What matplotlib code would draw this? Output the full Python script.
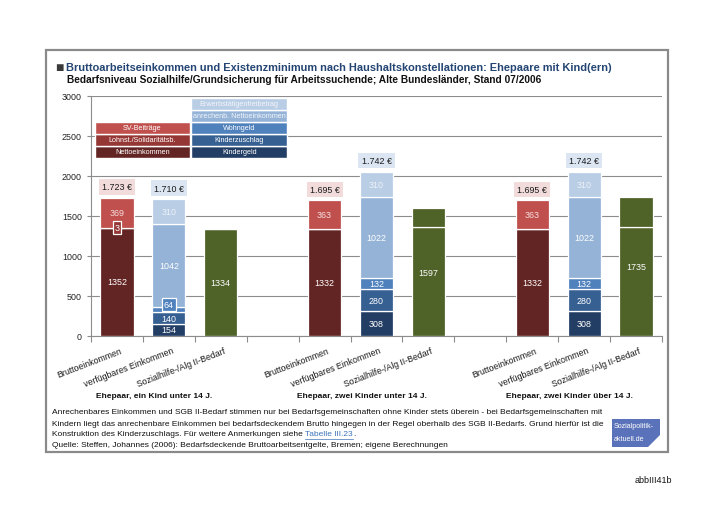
import numpy as np
import matplotlib
matplotlib.use('Agg')
import matplotlib.pyplot as plt
import matplotlib.transforms as mtransforms
from matplotlib.patches import Rectangle, Polygon
from matplotlib.lines import Line2D

plt.rcParams['font.family'] = ['Liberation Sans', 'DejaVu Sans']

# ---- Daten ----
groups = ['Ehepaar, ein Kind unter 14 J.', 'Ehepaar, zwei Kinder unter 14 J.',
          'Ehepaar, zwei Kinder über 14 J.']
categories = ['Bruttoeinkommen', 'verfügbares Einkommen', 'Sozialhilfe-/Alg II-Bedarf']

# Bruttoeinkommen
netto = [1352, 1332, 1332]
lohnst = [3, 0, 0]
sv = [369, 363, 363]
brutto_labels = ['1.723 €', '1.695 €', '1.695 €']

# verfügbares Einkommen
kindergeld = [154, 308, 308]
kinderzuschlag = [140, 280, 280]
wohngeld = [64, 132, 132]
anr_netto = [1042, 1022, 1022]
freibetrag = [310, 310, 310]
verf_labels = ['1.710 €', '1.742 €', '1.742 €']

# Sozialhilfe-/Alg II-Bedarf
bedarf = [1334, 1597, 1735]
bedarf_split = [0, 1360, 1360]

c_netto, c_lohnst, c_sv = '#632523', '#953735', '#c0504d'
c_kg, c_kz, c_wg, c_anr, c_fb = '#233e64', '#376092', '#4f81bd', '#95b3d7', '#b9cde5'
c_green = '#4f6228'

W, H = 716, 506
fig = plt.figure(figsize=(7.16, 5.06), dpi=100)


def fx(px):
    return px / W


def fy(py):
    return 1 - py / H


# Rahmen
fig.patches.append(Rectangle((fx(46), fy(453)), fx(668) - fx(46), fy(51) - fy(453),
                             transform=fig.transFigure, fill=False, ec='#8a8a8a', lw=1.6))

ax = fig.add_axes([fx(91), fy(337), fx(662) - fx(91), (337 - 97) / H])
ax.set_xlim(-0.5, 10.5)
ax.set_ylim(0, 3000)
bw = 0.64

xb = [g * 4 for g in range(3)]
xv = [g * 4 + 1 for g in range(3)]
xs = [g * 4 + 2 for g in range(3)]


def seg_label(x, base, h, text, color='white', box=None, dy=0):
    ax.annotate(text, (x, base + h / 2), xytext=(0, dy), textcoords='offset points',
                ha='center', va='center', fontsize=6.4, color=color,
                bbox=None if box is None else dict(boxstyle='square,pad=0.2', fc=box, ec='white', lw=0.9))


# Brutto
bottom = np.zeros(3)
for vals, col in [(netto, c_netto), (lohnst, c_lohnst), (sv, c_sv)]:
    ax.bar(xb, vals, bw, bottom=bottom, color=col, edgecolor='white', linewidth=0.9)
    bottom += vals
for i in range(3):
    seg_label(xb[i], 0, netto[i], str(netto[i]))
    if lohnst[i]:
        seg_label(xb[i], netto[i], lohnst[i], str(lohnst[i]), box=c_lohnst)
    seg_label(xb[i], netto[i] + lohnst[i], sv[i], str(sv[i]), color='#f4dede')
    ax.annotate(brutto_labels[i], (xb[i], bottom[i]), xytext=(0, 8), textcoords='offset points',
                ha='center', va='center', fontsize=6.4, color='#1a1a1a',
                bbox=dict(boxstyle='square,pad=0.35', fc='#f2dcdb', ec='none'))

# verfügbares Einkommen
bottom = np.zeros(3)
for vals, col in [(kindergeld, c_kg), (kinderzuschlag, c_kz), (wohngeld, c_wg),
                  (anr_netto, c_anr), (freibetrag, c_fb)]:
    ax.bar(xv, vals, bw, bottom=bottom, color=col, edgecolor='white', linewidth=0.9)
    bottom += vals
for i in range(3):
    b = 0
    seg_label(xv[i], b, kindergeld[i], str(kindergeld[i]))
    b += kindergeld[i]
    seg_label(xv[i], b, kinderzuschlag[i], str(kinderzuschlag[i]))
    b += kinderzuschlag[i]
    if wohngeld[i] < 100:
        seg_label(xv[i], b, wohngeld[i], str(wohngeld[i]), box=c_wg, dy=4)
    else:
        seg_label(xv[i], b, wohngeld[i], str(wohngeld[i]))
    b += wohngeld[i]
    seg_label(xv[i], b, anr_netto[i], str(anr_netto[i]))
    b += anr_netto[i]
    seg_label(xv[i], b, freibetrag[i], str(freibetrag[i]), color='#eef3f9')
    ax.annotate(verf_labels[i], (xv[i], bottom[i]), xytext=(0, 8), textcoords='offset points',
                ha='center', va='center', fontsize=6.4, color='#1a1a1a',
                bbox=dict(boxstyle='square,pad=0.35', fc='#dce6f2', ec='none'))

# Bedarf
lower = [s if s else t for s, t in zip(bedarf_split, bedarf)]
upper = [t - l for t, l in zip(bedarf, lower)]
ax.bar(xs, lower, bw, color=c_green, edgecolor='white', linewidth=0.9)
ax.bar(xs, upper, bw, bottom=lower, color=c_green, edgecolor='white', linewidth=0.9)
for i in range(3):
    seg_label(xs[i], 0, bedarf[i], str(bedarf[i]))

# Legende im Diagramm
rows_left = [('Nettoeinkommen', c_netto), ('Lohnst./Solidaritätsb.', c_lohnst), ('SV-Beiträge', c_sv)]
rows_right = [('Kindergeld', c_kg), ('Kinderzuschlag', c_kz), ('Wohngeld', c_wg),
              ('anrechenb. Nettoeinkommen', c_anr), ('Erwerbstätigenfreibetrag', c_fb)]
for x0, x1, rows in [(-0.42, 1.40, rows_left), (1.43, 3.28, rows_right)]:
    for k, (name, col) in enumerate(rows):
        y0 = 2230 + k * 150
        ax.add_patch(Rectangle((x0, y0), x1 - x0, 150, fc=col, ec='white', lw=1.0, zorder=3))
        ax.text((x0 + x1) / 2, y0 + 75, name, ha='center', va='center', fontsize=5.2,
                color='white' if k < 3 else '#f3f6fb', zorder=4)

# Achsen
ax.set_yticks(range(0, 3001, 500))
ax.yaxis.grid(True, color='#8c8c8c', lw=0.8)
ax.set_axisbelow(True)
for s in ['top', 'right']:
    ax.spines[s].set_visible(False)
for s in ['left', 'bottom']:
    ax.spines[s].set_color('#8c8c8c')
    ax.spines[s].set_linewidth(0.8)
ax.tick_params(axis='y', labelsize=6.4, colors='#222222', length=3, color='#8c8c8c')
ax.set_xticks(np.arange(-0.5, 11, 1))
ax.set_xticklabels([])
ax.tick_params(axis='x', length=4, color='#8c8c8c')

trans = mtransforms.blended_transform_factory(ax.transData, ax.transAxes)
for g in range(3):
    for c, name in enumerate(categories):
        ax.text(g * 4 + c + 0.05, -0.04, name, transform=trans, rotation=21, ha='right', va='top',
                rotation_mode='anchor', fontsize=6.3, color='#1a1a1a')
    ax.text(g * 4 + 0.71, -(396 - 337) / 240, groups[g], transform=trans, ha='center', va='center',
            fontsize=6.0, fontweight='bold', color='#111111')

# Titel
fig.text(fx(55), fy(68), '■', fontsize=10, color='#3a3a3a', va='center', ha='left')
fig.text(fx(66), fy(68), 'Bruttoarbeitseinkommen und Existenzminimum nach Haushaltskonstellationen: '
         'Ehepaare mit Kind(ern)', fontsize=7.95, fontweight='bold', color='#244573', va='center')
fig.text(fx(67), fy(80), 'Bedarfsniveau Sozialhilfe/Grundsicherung für Arbeitssuchende; '
         'Alte Bundesländer, Stand 07/2006', fontsize=7.3, fontweight='bold', color='#111111',
         va='center')

# Anmerkungen
notes = ['Anrechenbares Einkommen und SGB II-Bedarf stimmen nur bei Bedarfsgemeinschaften ohne '
         'Kinder stets überein - bei Bedarfsgemeinschaften mit',
         'Kindern liegt das anrechenbare Einkommen bei bedarfsdeckendem Brutto hingegen in der '
         'Regel oberhalb des SGB II-Bedarfs. Grund hierfür ist die',
         'Konstruktion des Kinderzuschlags. Für weitere Anmerkungen siehe ',
         'Quelle: Steffen, Johannes (2006): Bedarfsdeckende Bruttoarbeitsentgelte, Bremen; '
         'eigene Berechnungen']
note_y = [413, 424, 435, 446]
fs_note = 6.0
note_texts = []
for line, py in zip(notes, note_y):
    note_texts.append(fig.text(fx(52), fy(py), line, fontsize=fs_note, color='#111111', va='center'))

renderer = fig.canvas.get_renderer()
bb = note_texts[2].get_window_extent(renderer)
lx = bb.x1 / W
link = fig.text(lx, fy(435), 'Tabelle III.23', fontsize=fs_note, color='#3b73b9', va='center')
lbb = link.get_window_extent(renderer)
fig.text(lbb.x1 / W, fy(435), '.', fontsize=fs_note, color='#111111', va='center')
fig.lines.append(Line2D([lbb.x0 / W, lbb.x1 / W], [fy(440), fy(440)], transform=fig.transFigure,
                        color='#3b73b9', lw=0.5))

# Logo
logo = [(612, 420), (660, 420), (660, 436), (648, 448), (612, 448)]
fig.patches.append(Polygon([(fx(a), fy(b)) for a, b in logo], closed=True,
                           transform=fig.transFigure, fc='#5a72b9', ec='none'))
fig.text(fx(614), fy(427), 'Sozialpolitik-', fontsize=5.1, color='white', va='center')
fig.text(fx(614), fy(440), 'aktuell.de', fontsize=5.1, color='white', va='center')

fig.text(fx(672), fy(481), 'abbIII41b', fontsize=6.5, color='#111111', ha='right', va='center')

fig.savefig('out.png', dpi=100, facecolor='white')
